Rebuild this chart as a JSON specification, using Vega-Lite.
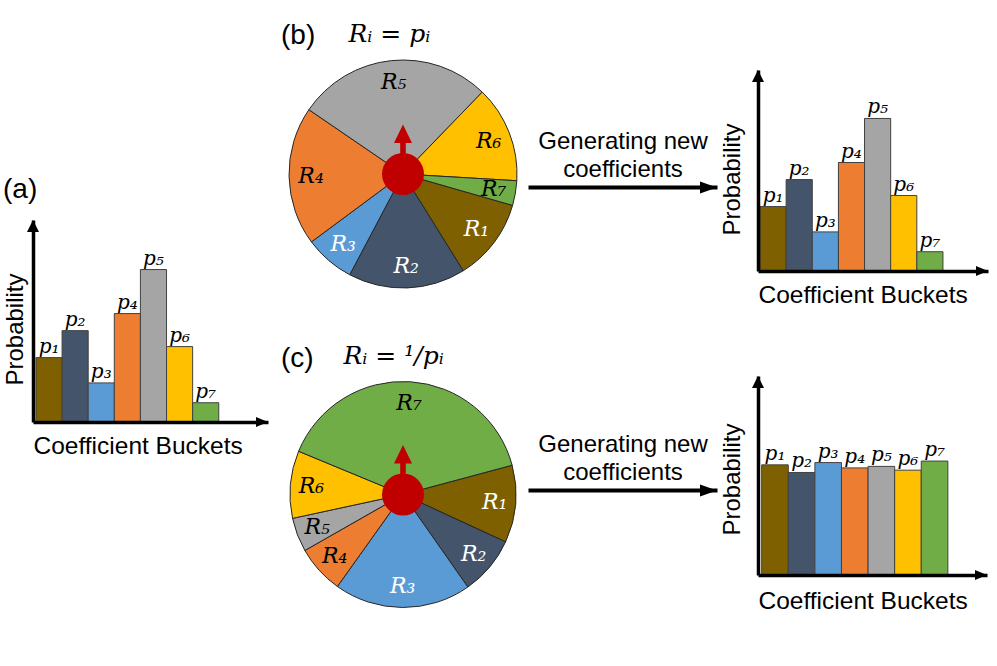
{
  "$schema": "https://vega.github.io/schema/vega-lite/v6.json",
  "background": "white",
  "padding": {"left": 3, "top": 22, "right": 5, "bottom": 5},
  "config": {"view": {"stroke": null}, "font": "Liberation Sans"},
  "datasets": {
    "probs": [
      {"i": 1, "p": 0.117, "pl": "p₁", "rl": "R₁"},
      {"i": 2, "p": 0.166, "pl": "p₂", "rl": "R₂"},
      {"i": 3, "p": 0.071, "pl": "p₃", "rl": "R₃"},
      {"i": 4, "p": 0.197, "pl": "p₄", "rl": "R₄"},
      {"i": 5, "p": 0.277, "pl": "p₅", "rl": "R₅"},
      {"i": 6, "p": 0.137, "pl": "p₆", "rl": "R₆"},
      {"i": 7, "p": 0.035, "pl": "p₇", "rl": "R₇"}
    ],
    "uniform": [
      {"i": 1, "p": 0.145, "pl": "p₁"},
      {"i": 2, "p": 0.135, "pl": "p₂"},
      {"i": 3, "p": 0.148, "pl": "p₃"},
      {"i": 4, "p": 0.141, "pl": "p₄"},
      {"i": 5, "p": 0.143, "pl": "p₅"},
      {"i": 6, "p": 0.138, "pl": "p₆"},
      {"i": 7, "p": 0.150, "pl": "p₇"}
    ],
    "inverse": [
      {"i": 1, "w": 39.8, "rl": "R₁"},
      {"i": 2, "w": 30.2, "rl": "R₂"},
      {"i": 3, "w": 70.5, "rl": "R₃"},
      {"i": 4, "w": 24.8, "rl": "R₄"},
      {"i": 5, "w": 17.5, "rl": "R₅"},
      {"i": 6, "w": 34.7, "rl": "R₆"},
      {"i": 7, "w": 142.5, "rl": "R₇"}
    ]
  },
  "spacing": 0,
  "hconcat": [
    {
      "spacing": 0,
      "vconcat": [
        {"width": 248, "height": 118, "data": {"values": [{}]}, "mark": {"type": "point", "opacity": 0}, "encoding": {}},
        {
          "width": 235, "height": 202,
          "title": {"text": "(a)", "anchor": "start", "frame": "bounds", "fontSize": 28, "font": "Liberation Sans", "fontWeight": "normal", "color": "black", "offset": 16},
          "data": {"name": "probs"},
          "encoding": {
            "x": {"field": "i", "type": "nominal", "scale": {"paddingInner": 0, "paddingOuter": 1.0, "align": 0.057},
              "axis": {"title": "Coefficient Buckets", "labels": false, "ticks": false, "grid": false, "domain": true, "domainColor": "black", "domainWidth": 3.5, "zindex": 1, "titleFont": "Liberation Sans", "titleFontSize": 24.5, "titleFontWeight": "normal", "titleColor": "black", "titleAnchor": "start", "titlePadding": 12}},
            "y": {"field": "p", "type": "quantitative", "scale": {"domain": [0, 0.367], "nice": false},
              "axis": {"title": "Probability", "labels": false, "ticks": false, "grid": false, "domain": true, "domainColor": "black", "domainWidth": 3.5, "zindex": 1, "titleFont": "Liberation Sans", "titleFontSize": 24, "titleFontWeight": "normal", "titleColor": "black", "titleY": 109, "titlePadding": 6}}
          },
          "layer": [
            {"mark": {"type": "bar", "stroke": "#404040", "strokeWidth": 1},
             "encoding": {"color": {"field": "i", "type": "nominal", "scale": {"domain": [1, 2, 3, 4, 5, 6, 7], "range": ["#7F6000", "#44546A", "#5B9BD5", "#ED7D31", "#A5A5A5", "#FFC000", "#70AD47"]}, "legend": null}}},
            {"mark": {"type": "text", "baseline": "bottom", "dy": -1, "font": "DejaVu Serif", "fontStyle": "italic", "fontSize": 20, "color": "black"},
             "encoding": {"text": {"field": "pl"}}},
            {"data": {"values": [{}]}, "mark": {"type": "point", "shape": "M -1 2 L 0 0 L 1 2 Z", "size": 144, "filled": true, "color": "black", "opacity": 1, "strokeWidth": 0},
             "encoding": {"x": {"value": 0}, "y": {"value": 0}}},
            {"data": {"values": [{}]}, "mark": {"type": "point", "shape": "M -2 -0.85 L 0 0 L -2 0.85 Z", "size": 144, "filled": true, "color": "black", "opacity": 1, "strokeWidth": 0},
             "encoding": {"x": {"value": "width"}, "y": {"value": "height"}}}
          ]
        }
      ]
    },
    {
      "spacing": 53.5,
      "vconcat": [
        {
          "width": 244, "height": 232,
          "title": {"text": "(b)", "subtitle": "\u200b\u2003\u2003\u2002\u2009Rᵢ = pᵢ", "anchor": "start", "frame": "group", "fontSize": 28, "font": "Liberation Sans", "fontWeight": "normal", "color": "black", "subtitleFont": "DejaVu Serif", "subtitleFontStyle": "italic", "subtitleFontSize": 25, "subtitleColor": "black", "subtitlePadding": -28, "offset": 8},
          "data": {"name": "probs"},
          "layer": [
            {"mark": {"type": "arc", "outerRadius": 114, "stroke": "#262626", "strokeWidth": 1},
             "encoding": {
               "theta": {"field": "p", "type": "quantitative", "stack": true, "scale": {"domain": [0, 1], "range": [1.85, 8.133]}},
               "color": {"field": "i", "type": "nominal", "scale": {"domain": [1, 2, 3, 4, 5, 6, 7], "range": ["#7F6000", "#44546A", "#5B9BD5", "#ED7D31", "#A5A5A5", "#FFC000", "#70AD47"]}, "legend": null},
               "order": {"field": "i", "type": "quantitative"}}},
            {"mark": {"type": "text", "radius": 92, "font": "DejaVu Serif", "fontStyle": "italic", "fontSize": 22},
             "encoding": {
               "theta": {"field": "p", "type": "quantitative", "stack": true, "scale": {"domain": [0, 1], "range": [1.85, 8.133]}},
               "detail": {"field": "i", "type": "nominal"},
               "order": {"field": "i", "type": "quantitative"},
               "text": {"field": "rl"},
               "color": {"condition": {"test": "datum.i <= 3", "value": "white"}, "value": "black"}}},
            {"data": {"values": [{}]}, "mark": {"type": "point", "shape": "circle", "size": 1764, "filled": true, "color": "#C00000", "opacity": 1, "strokeWidth": 0}, "encoding": {}},
            {"data": {"values": [{}]}, "mark": {"type": "point", "shape": "M -0.056 0 L -0.056 -0.62 L -0.18 -0.62 L 0 -0.99 L 0.18 -0.62 L 0.056 -0.62 L 0.056 0 Z", "size": 10000, "filled": true, "color": "#C00000", "opacity": 1, "strokeWidth": 0}, "encoding": {}}
          ]
        },
        {
          "width": 244, "height": 232,
          "title": {"text": "(c)", "subtitle": "\u200b\u2003\u2003\u2002Rᵢ = ¹/pᵢ", "anchor": "start", "frame": "group", "fontSize": 28, "font": "Liberation Sans", "fontWeight": "normal", "color": "black", "subtitleFont": "DejaVu Serif", "subtitleFontStyle": "italic", "subtitleFontSize": 25, "subtitleColor": "black", "subtitlePadding": -29, "offset": 4.5},
          "data": {"name": "inverse"},
          "layer": [
            {"mark": {"type": "arc", "outerRadius": 113, "stroke": "#262626", "strokeWidth": 1},
             "encoding": {
               "theta": {"field": "w", "type": "quantitative", "stack": true, "scale": {"domain": [0, 360], "range": [1.309, 7.592]}},
               "color": {"field": "i", "type": "nominal", "scale": {"domain": [1, 2, 3, 4, 5, 6, 7], "range": ["#7F6000", "#44546A", "#5B9BD5", "#ED7D31", "#A5A5A5", "#FFC000", "#70AD47"]}, "legend": null},
               "order": {"field": "i", "type": "quantitative"}}},
            {"mark": {"type": "text", "radius": 92, "font": "DejaVu Serif", "fontStyle": "italic", "fontSize": 22},
             "encoding": {
               "theta": {"field": "w", "type": "quantitative", "stack": true, "scale": {"domain": [0, 360], "range": [1.309, 7.592]}},
               "detail": {"field": "i", "type": "nominal"},
               "order": {"field": "i", "type": "quantitative"},
               "text": {"field": "rl"},
               "color": {"condition": {"test": "datum.i <= 3", "value": "white"}, "value": "black"}}},
            {"data": {"values": [{}]}, "mark": {"type": "point", "shape": "circle", "size": 1764, "filled": true, "color": "#C00000", "opacity": 1, "strokeWidth": 0}, "encoding": {}},
            {"data": {"values": [{}]}, "mark": {"type": "point", "shape": "M -0.056 0 L -0.056 -0.62 L -0.18 -0.62 L 0 -0.99 L 0.18 -0.62 L 0.056 -0.62 L 0.056 0 Z", "size": 10000, "filled": true, "color": "#C00000", "opacity": 1, "strokeWidth": 0}, "encoding": {}}
          ]
        }
      ]
    },
    {
      "spacing": 0,
      "vconcat": [
        {"width": 192, "height": 71, "data": {"values": [{}]}, "mark": {"type": "point", "opacity": 0}, "encoding": {}},
        {
          "width": 189, "height": 1,
          "data": {"values": [{}]},
          "mark": {"type": "point", "shape": "M -2 -0.7 L 0 0 L -2 0.7 Z", "size": 289, "filled": true, "color": "black", "opacity": 1, "strokeWidth": 0},
          "encoding": {"x": {"datum": 1, "type": "quantitative", "scale": {"domain": [0, 1], "nice": false, "zero": false},
            "axis": {"orient": "top", "title": ["Generating new", "coefficients"], "labels": false, "ticks": false, "grid": false, "domain": true, "domainColor": "black", "domainWidth": 4, "titleFont": "Liberation Sans", "titleFontSize": 24, "titleFontWeight": "normal", "titleColor": "black", "titleLineHeight": 28, "titlePadding": 6}}}
        },
        {"width": 1, "height": 238, "data": {"values": [{}]}, "mark": {"type": "point", "opacity": 0}, "encoding": {}},
        {
          "width": 189, "height": 1,
          "data": {"values": [{}]},
          "mark": {"type": "point", "shape": "M -2 -0.7 L 0 0 L -2 0.7 Z", "size": 289, "filled": true, "color": "black", "opacity": 1, "strokeWidth": 0},
          "encoding": {"x": {"datum": 1, "type": "quantitative", "scale": {"domain": [0, 1], "nice": false, "zero": false},
            "axis": {"orient": "top", "title": ["Generating new", "coefficients"], "labels": false, "ticks": false, "grid": false, "domain": true, "domainColor": "black", "domainWidth": 4, "titleFont": "Liberation Sans", "titleFontSize": 24, "titleFontWeight": "normal", "titleColor": "black", "titleLineHeight": 28, "titlePadding": 6}}}
        }
      ]
    },
    {
      "spacing": 0,
      "vconcat": [
        {"width": 1, "height": 12, "data": {"values": [{}]}, "mark": {"type": "point", "opacity": 0}, "encoding": {}},
        {
          "width": 230, "height": 201,
          "data": {"name": "probs"},
          "encoding": {
            "x": {"field": "i", "type": "nominal", "scale": {"paddingInner": 0, "paddingOuter": 0.9, "align": 0.0425},
              "axis": {"title": "Coefficient Buckets", "labels": false, "ticks": false, "grid": false, "domain": true, "domainColor": "black", "domainWidth": 3.5, "zindex": 1, "titleFont": "Liberation Sans", "titleFontSize": 24.5, "titleFontWeight": "normal", "titleColor": "black", "titleAnchor": "start", "titlePadding": 12}},
            "y": {"field": "p", "type": "quantitative", "scale": {"domain": [0, 0.365], "nice": false},
              "axis": {"title": "Probability", "labels": false, "ticks": false, "grid": false, "domain": true, "domainColor": "black", "domainWidth": 3.5, "zindex": 1, "titleFont": "Liberation Sans", "titleFontSize": 24, "titleFontWeight": "normal", "titleColor": "black", "titleY": 109, "titlePadding": 14}}
          },
          "layer": [
            {"mark": {"type": "bar", "stroke": "#404040", "strokeWidth": 1},
             "encoding": {"color": {"field": "i", "type": "nominal", "scale": {"domain": [1, 2, 3, 4, 5, 6, 7], "range": ["#7F6000", "#44546A", "#5B9BD5", "#ED7D31", "#A5A5A5", "#FFC000", "#70AD47"]}, "legend": null}}},
            {"mark": {"type": "text", "baseline": "bottom", "dy": -1, "font": "DejaVu Serif", "fontStyle": "italic", "fontSize": 20, "color": "black"},
             "encoding": {"text": {"field": "pl"}}},
            {"data": {"values": [{}]}, "mark": {"type": "point", "shape": "M -1 2 L 0 0 L 1 2 Z", "size": 144, "filled": true, "color": "black", "opacity": 1, "strokeWidth": 0},
             "encoding": {"x": {"value": 0}, "y": {"value": 0}}},
            {"data": {"values": [{}]}, "mark": {"type": "point", "shape": "M -2 -0.85 L 0 0 L -2 0.85 Z", "size": 144, "filled": true, "color": "black", "opacity": 1, "strokeWidth": 0},
             "encoding": {"x": {"value": "width"}, "y": {"value": "height"}}}
          ]
        },
        {"width": 1, "height": 69, "data": {"values": [{}]}, "mark": {"type": "point", "opacity": 0}, "encoding": {}},
        {
          "width": 229, "height": 199,
          "data": {"name": "uniform"},
          "encoding": {
            "x": {"field": "i", "type": "nominal", "scale": {"paddingInner": 0, "paddingOuter": 0.805, "align": 0.086},
              "axis": {"title": "Coefficient Buckets", "labels": false, "ticks": false, "grid": false, "domain": true, "domainColor": "black", "domainWidth": 3.5, "zindex": 1, "titleFont": "Liberation Sans", "titleFontSize": 24.5, "titleFontWeight": "normal", "titleColor": "black", "titleAnchor": "start", "titlePadding": 14}},
            "y": {"field": "p", "type": "quantitative", "scale": {"domain": [0, 0.262], "nice": false},
              "axis": {"title": "Probability", "labels": false, "ticks": false, "grid": false, "domain": true, "domainColor": "black", "domainWidth": 3.5, "zindex": 1, "titleFont": "Liberation Sans", "titleFontSize": 24, "titleFontWeight": "normal", "titleColor": "black", "titleY": 103, "titlePadding": 14}}
          },
          "layer": [
            {"mark": {"type": "bar", "stroke": "#404040", "strokeWidth": 1},
             "encoding": {"color": {"field": "i", "type": "nominal", "scale": {"domain": [1, 2, 3, 4, 5, 6, 7], "range": ["#7F6000", "#44546A", "#5B9BD5", "#ED7D31", "#A5A5A5", "#FFC000", "#70AD47"]}, "legend": null}}},
            {"mark": {"type": "text", "baseline": "bottom", "dy": -1, "font": "DejaVu Serif", "fontStyle": "italic", "fontSize": 20, "color": "black"},
             "encoding": {"text": {"field": "pl"}}},
            {"data": {"values": [{}]}, "mark": {"type": "point", "shape": "M -1 2 L 0 0 L 1 2 Z", "size": 144, "filled": true, "color": "black", "opacity": 1, "strokeWidth": 0},
             "encoding": {"x": {"value": 0}, "y": {"value": 0}}},
            {"data": {"values": [{}]}, "mark": {"type": "point", "shape": "M -2 -0.85 L 0 0 L -2 0.85 Z", "size": 144, "filled": true, "color": "black", "opacity": 1, "strokeWidth": 0},
             "encoding": {"x": {"value": "width"}, "y": {"value": "height"}}}
          ]
        }
      ]
    }
  ]
}
